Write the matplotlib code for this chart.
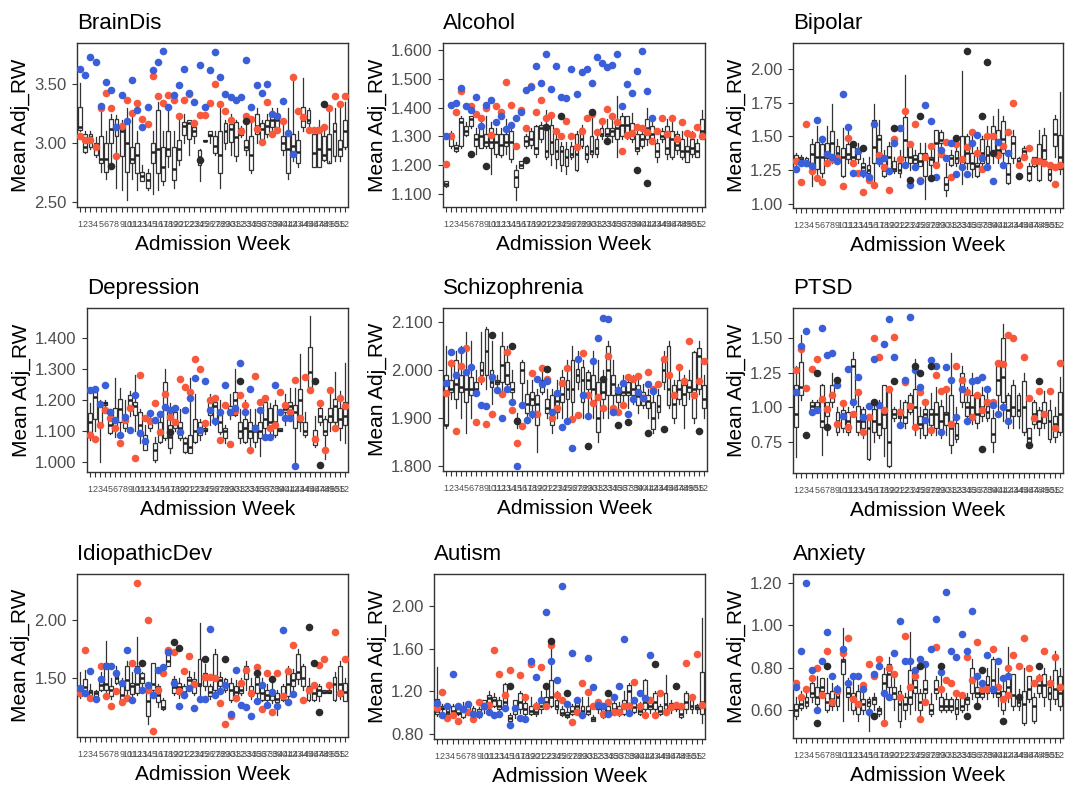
import matplotlib
matplotlib.use("Agg")
import matplotlib.pyplot as plt
from matplotlib.ticker import FormatStrFormatter

plt.rcParams["font.family"] = ["Liberation Sans", "DejaVu Sans"]

weeks = list(range(1, 53))
week_labels = [str(w) for w in weeks]

RED = "#F8593C"
BLUE = "#3A5FD8"
BLACK = "#2B2B2B"

# ---------------- BrainDis ----------------
braindis_med = [3.14,2.97,3.05,2.95,2.87,2.87,3.12,3.12,3.10,3.00, 2.87,2.90,2.72,2.69,2.93,2.95,2.80,2.95,2.78,2.95,
                3.15,3.17,3.10,2.88,3.02,3.07,2.98,2.90,3.10,3.12, 3.05,3.10,2.97,2.90,3.15,3.12,3.15,3.20,3.20,3.00,
                2.95,2.98,2.93,3.20,3.20,2.92,2.95,2.90,2.95,3.10, 2.95,3.10]
braindis_q1 = [3.11,2.93,2.97,2.90,2.83,2.76,3.00,3.06,2.89,2.76, 2.83,2.75,2.68,2.62,2.83,2.75,2.68,2.89,2.69,2.86,
               3.07,3.04,3.06,2.82,3.02,3.06,2.92,2.75,3.00,3.01, 2.89,3.07,2.94,2.77,3.08,3.03,3.08,3.14,3.11,2.94,
               2.75,2.89,2.83,3.14,3.17,2.80,2.80,2.86,2.83,2.89, 2.89,2.97]
braindis_q3 = [3.31,3.08,3.08,3.00,3.06,3.00,3.21,3.21,3.13,3.17, 2.97,3.00,2.76,2.75,3.00,3.28,2.97,3.10,2.97,3.03,
               3.18,3.20,3.14,2.94,3.03,3.10,3.06,3.10,3.17,3.16, 3.18,3.13,3.03,3.06,3.25,3.17,3.20,3.25,3.25,3.06,
               3.08,3.08,3.03,3.31,3.28,3.08,3.14,3.06,3.08,3.17, 3.03,3.20]
braindis_lo = [3.10,2.92,2.95,2.88,2.76,2.70,2.80,2.62,2.60,2.52, 2.70,2.60,2.68,2.60,2.57,2.60,2.65,2.80,2.62,2.82,
               3.00,2.90,3.00,2.68,3.02,3.00,2.90,2.62,2.95,2.90, 2.85,3.05,2.90,2.75,3.00,3.00,3.05,3.10,3.10,2.90,
               2.70,2.85,2.80,3.10,3.10,2.80,2.80,2.85,2.85,2.85, 2.85,2.95]
braindis_hi = [3.51,3.10,3.10,3.05,3.28,3.10,3.25,3.24,3.20,3.30, 3.25,3.10,2.82,2.78,3.10,3.35,3.10,3.30,3.10,3.20,
               3.25,3.20,3.20,2.95,3.03,3.10,3.10,3.30,3.20,3.25, 3.20,3.15,3.20,3.20,3.30,3.20,3.25,3.30,3.30,3.20,
               3.30,3.55,3.10,3.55,3.30,3.10,3.20,3.15,3.30,3.30, 3.30,3.35]
braindis_red = [(1,3.06),(2,3.03),(3,3.03),(4,2.97),(5,3.30),(6,3.43),(7,3.30),(8,2.89),(9,3.15),(10,3.37),(11,3.26),
                (12,3.34),(13,3.21),(14,3.16),(15,3.57),(16,3.40),(17,3.34),(18,3.41),(19,3.37),(20,3.23),(21,3.37),
                (22,3.42),(23,3.17),(24,3.24),(25,3.24),(26,3.34),(27,3.50),(28,3.33),(29,3.27),(30,3.20),(32,3.10),
                (33,3.23),(34,3.21),(35,3.12),(36,3.01),(37,3.35),(38,3.08),(39,3.11),(40,3.19),(42,3.56),(43,3.27),
                (44,3.22),(45,3.11),(46,3.11),(47,3.11),(48,3.14),(49,3.30),(50,3.40),(51,3.33),(52,3.40)]
braindis_blue = [3.63,3.58,3.73,3.69,3.32,3.52,3.45,3.14,3.41,3.19, 3.54,3.28,3.14,3.31,3.62,3.69,3.78,3.31,3.41,3.49,
                 3.63,3.43,3.35,3.66,3.31,3.62,3.77,3.56,3.42,3.39, 3.37,3.39,3.71,3.31,3.49,3.43,3.50,3.25,3.23,3.36,
                 3.09,2.91]
braindis_black = [(7,2.81),(24,2.86),(33,3.19),(48,3.33)]

# ---------------- Alcohol ----------------
alcohol_med = [1.135,1.30,1.26,1.35,1.32,1.36,1.29,1.30,1.28,1.28, 1.28,1.27,1.28,1.28,1.16,1.20,1.285,1.29,1.26,1.33,
               1.25,1.28,1.25,1.25,1.23,1.24,1.24,1.29,1.24,1.25, 1.26,1.31,1.31,1.32,1.33,1.34,1.34,1.31,1.26,1.29,
               1.33,1.31,1.25,1.30,1.26,1.29,1.27,1.25,1.25,1.26, 1.25,1.32]
alcohol_q1 = [1.127,1.265,1.248,1.265,1.305,1.335,1.265,1.26,1.265,1.26, 1.24,1.236,1.265,1.22,1.125,1.19,1.265,1.27,1.24,1.29,
              1.23,1.24,1.22,1.20,1.197,1.23,1.185,1.265,1.22,1.24, 1.24,1.30,1.30,1.30,1.29,1.30,1.31,1.29,1.25,1.265,
              1.29,1.29,1.23,1.29,1.24,1.23,1.254,1.23,1.21,1.24, 1.23,1.29]
alcohol_q3 = [1.144,1.311,1.27,1.363,1.335,1.37,1.31,1.335,1.31,1.33, 1.31,1.31,1.31,1.32,1.185,1.213,1.30,1.317,1.335,1.34,
              1.335,1.34,1.29,1.265,1.255,1.265,1.31,1.33,1.265,1.30, 1.29,1.33,1.33,1.33,1.345,1.37,1.37,1.345,1.31,1.31,
              1.36,1.335,1.277,1.32,1.335,1.317,1.31,1.29,1.265,1.29, 1.277,1.36]
alcohol_lo = [1.125,1.26,1.245,1.26,1.30,1.33,1.24,1.26,1.26,1.17, 1.23,1.23,1.24,1.21,1.08,1.19,1.26,1.26,1.23,1.28,
              1.22,1.20,1.19,1.18,1.17,1.22,1.18,1.26,1.21,1.23, 1.23,1.29,1.28,1.28,1.23,1.29,1.29,1.28,1.24,1.26,
              1.27,1.28,1.21,1.28,1.22,1.22,1.24,1.22,1.21,1.23, 1.23,1.29]
alcohol_hi = [1.145,1.32,1.28,1.37,1.35,1.37,1.33,1.35,1.37,1.35, 1.33,1.33,1.36,1.33,1.20,1.215,1.31,1.33,1.34,1.35,
              1.39,1.38,1.31,1.28,1.28,1.28,1.32,1.34,1.27,1.39, 1.32,1.35,1.36,1.36,1.44,1.38,1.37,1.38,1.32,1.33,
              1.40,1.37,1.29,1.33,1.36,1.35,1.32,1.32,1.31,1.32, 1.29,1.39]
alcohol_red = [(1,1.205),(2,1.30),(3,1.383),(4,1.459),(6,1.406),(7,1.377),(8,1.363),(9,1.40),(10,1.305),(11,1.406),
               (12,1.383),(13,1.49),(14,1.41),(15,1.267),(16,1.392),(17,1.33),(18,1.475),(19,1.383),(20,1.427),(21,1.363),
               (22,1.375),(23,1.317),(24,1.30),(25,1.354),(26,1.30),(27,1.263),(28,1.32),(29,1.363),(30,1.377),(31,1.314),
               (32,1.352),(33,1.394),(34,1.371),(35,1.349),(36,1.248),(37,1.305),(38,1.311),(39,1.332),(40,1.329),(41,1.314),
               (42,1.283),(43,1.319),(44,1.363),(45,1.308),(46,1.363),(47,1.29),(48,1.349),(49,1.311),(50,1.305),(51,1.334),
               (52,1.30)]
alcohol_blue = [1.30,1.41,1.415,1.467,1.406,1.392,1.438,1.337,1.41,1.427, 1.349,1.372,1.326,1.34,1.363,1.383,1.461,1.47,1.545,1.486,
                1.586,1.463,1.545,1.438,1.433,1.533,1.448,1.525,1.533,1.486, 1.577,1.556,1.539,1.548,1.586,1.406,1.481,1.452,1.527,1.597,
                1.459,1.363]
alcohol_black = [(6,1.24),(9,1.196),(17,1.217),(21,1.332),(24,1.371),(30,1.386),(33,1.283),(39,1.182),(41,1.14)]

# ---------------- Bipolar ----------------
bipolar_med = [1.33,1.33,1.32,1.37,1.35,1.35,1.37,1.45,1.38,1.35, 1.37,1.35,1.38,1.27,1.25,1.42,1.48,1.25,1.35,1.26,
               1.25,1.47,1.35,1.33,1.32,1.35,1.33,1.45,1.47,1.15, 1.34,1.34,1.35,1.38,1.30,1.28,1.38,1.36,1.50,1.40,
               1.48,1.22,1.45,1.32,1.39,1.23,1.32,1.30,1.40,1.22, 1.52,1.35]
bipolar_q1 = [1.30,1.30,1.28,1.30,1.255,1.23,1.34,1.33,1.32,1.205, 1.33,1.32,1.33,1.24,1.23,1.30,1.33,1.205,1.255,1.24,
              1.23,1.35,1.30,1.30,1.28,1.205,1.29,1.30,1.45,1.105, 1.29,1.30,1.27,1.30,1.255,1.205,1.30,1.30,1.38,1.35,
              1.38,1.155,1.34,1.30,1.35,1.18,1.28,1.18,1.33,1.18, 1.43,1.255]
bipolar_q3 = [1.365,1.35,1.34,1.44,1.46,1.44,1.45,1.54,1.43,1.415, 1.44,1.43,1.415,1.30,1.29,1.62,1.51,1.35,1.43,1.315,
              1.30,1.64,1.43,1.365,1.38,1.38,1.35,1.55,1.53,1.20, 1.365,1.39,1.50,1.50,1.38,1.30,1.48,1.43,1.575,1.55,
              1.61,1.30,1.50,1.34,1.415,1.28,1.35,1.44,1.51,1.255, 1.625,1.51]
bipolar_lo = [1.29,1.30,1.28,1.13,1.20,1.20,1.30,1.30,1.30,1.20, 1.30,1.30,1.30,1.20,1.20,1.15,1.28,1.20,1.22,1.23,
              1.20,1.30,1.25,1.28,1.28,1.04,1.20,1.28,1.35,1.06, 1.28,1.28,1.15,1.26,1.20,1.20,1.25,1.28,1.30,1.30,
              1.30,1.15,1.30,1.30,1.33,1.17,1.27,1.17,1.28,1.17, 1.35,1.22]
bipolar_hi = [1.38,1.36,1.35,1.48,1.58,1.50,1.58,1.74,1.48,1.56, 1.55,1.45,1.45,1.34,1.35,1.74,1.62,1.40,1.46,1.35,
              1.40,1.95,1.45,1.40,1.45,1.45,1.40,1.55,1.55,1.30, 1.40,1.45,1.98,1.52,1.50,1.42,1.50,1.58,1.65,1.70,
              1.65,1.35,1.55,1.35,1.43,1.30,1.35,1.55,1.56,1.28, 1.66,1.83]
bipolar_red = [(1,1.32),(2,1.16),(3,1.59),(4,1.24),(5,1.19),(6,1.16),(7,1.30),(8,1.33),(9,1.34),(10,1.13),(11,1.49),
               (12,1.30),(13,1.23),(14,1.09),(15,1.18),(16,1.14),(17,1.36),(18,1.27),(19,1.10),(20,1.48),(21,1.33),
               (22,1.69),(23,1.44),(24,1.59),(25,1.18),(26,1.35),(27,1.43),(28,1.29),(29,1.37),(30,1.46),(31,1.20),
               (32,1.44),(33,1.33),(34,1.42),(35,1.53),(36,1.38),(37,1.26),(38,1.50),(39,1.50),(40,1.36),(41,1.43),
               (42,1.53),(43,1.75),(44,1.29),(45,1.35),(46,1.41),(47,1.32),(48,1.32),(49,1.30),(50,1.29),(51,1.27),
               (51,1.15),(52,1.29)]
bipolar_blue = [1.26,1.30,1.30,1.28,1.62,1.48,1.37,1.35,1.32,1.81, 1.57,1.23,1.39,1.23,1.20,1.59,1.32,1.34,1.24,1.45,
                1.56,1.29,1.14,1.27,1.17,1.73,1.61,1.20,1.40,1.34, 1.45,1.22,1.27,1.22,1.45,1.51,1.34,1.27,1.17,1.46,
                1.29,1.38]
bipolar_black = [(12,1.44),(14,1.41),(20,1.56),(23,1.18),(25,1.65),(27,1.19),(32,1.49),(34,2.13),(37,1.65),(38,2.05),
                 (39,1.38),(44,1.21)]

# ---------------- Depression ----------------
depression_med = [1.13,1.21,1.19,1.19,1.12,1.14,1.17,1.13,1.20,1.18, 1.12,1.06,1.13,1.04,1.09,1.18,1.08,1.13,1.11,1.06,
                  1.05,1.10,1.10,1.105,1.17,1.18,1.13,1.10,1.16,1.20, 1.10,1.11,1.10,1.10,1.10,1.14,1.13,1.13,1.105,1.17,
                  1.18,1.16,1.20,1.10,1.29,1.08,1.15,1.10,1.15,1.18, 1.14,1.15]
depression_q1 = [1.098,1.14,1.125,1.185,1.093,1.11,1.13,1.11,1.173,1.152, 1.088,1.04,1.11,1.007,1.066,1.077,1.045,1.11,1.077,1.034,
                 1.03,1.066,1.088,1.10,1.152,1.13,1.098,1.077,1.152,1.152, 1.077,1.066,1.077,1.066,1.077,1.11,1.11,1.088,1.10,1.163,
                 1.152,1.11,1.13,1.088,1.232,1.056,1.13,1.088,1.13,1.13, 1.11,1.12]
depression_q3 = [1.157,1.227,1.195,1.195,1.152,1.173,1.205,1.152,1.216,1.195, 1.163,1.088,1.14,1.06,1.13,1.259,1.12,1.163,1.13,1.077,
                 1.088,1.14,1.13,1.11,1.20,1.195,1.152,1.11,1.18,1.227, 1.13,1.14,1.13,1.12,1.13,1.195,1.173,1.184,1.11,1.184,
                 1.195,1.184,1.237,1.13,1.371,1.104,1.173,1.14,1.173,1.205, 1.173,1.195]
depression_lo = [1.07,1.10,1.00,1.16,1.09,1.08,1.10,1.10,1.15,1.10, 1.06,1.04,1.10,1.00,1.06,1.07,1.03,1.10,1.07,1.03,
                 1.03,1.06,1.07,1.09,1.12,1.12,1.09,1.06,1.14,1.15, 1.06,1.06,1.03,1.05,1.02,1.08,1.09,1.08,1.10,1.12,
                 1.14,1.00,1.10,1.08,1.23,1.05,1.12,1.01,1.10,1.12, 1.07,1.06]
depression_hi = [1.19,1.23,1.20,1.20,1.17,1.27,1.24,1.20,1.23,1.28, 1.17,1.12,1.16,1.08,1.16,1.30,1.19,1.17,1.17,1.08,
                 1.27,1.22,1.14,1.12,1.22,1.20,1.20,1.12,1.22,1.30, 1.17,1.20,1.17,1.17,1.16,1.20,1.19,1.20,1.11,1.22,
                 1.24,1.24,1.35,1.16,1.47,1.15,1.19,1.15,1.23,1.29, 1.23,1.32]
depression_red = [(1,1.088),(2,1.075),(3,1.12),(4,1.168),(5,1.143),(6,1.111),(7,1.061),(8,1.136),(9,1.173),(10,1.013),
                  (11,1.28),(12,1.141),(13,1.133),(14,1.19),(15,1.096),(16,1.22),(17,1.146),(18,1.128),(19,1.267),(20,1.243),
                  (21,1.227),(22,1.334),(23,1.30),(24,1.125),(25,1.20),(26,1.207),(27,1.071),(28,1.184),(29,1.058),(30,1.165),
                  (31,1.216),(32,1.184),(33,1.04),(34,1.277),(35,1.195),(36,1.207),(37,1.111),(38,1.12),(39,1.225),(40,1.184),
                  (41,1.16),(42,1.264),(43,1.143),(44,1.275),(45,1.232),(46,1.075),(47,1.19),(48,1.04),(49,1.232),(50,1.111),
                  (51,1.207),(52,1.182)]
depression_blue = [1.232,1.237,1.186,1.25,1.163,1.136,1.086,1.147,1.104,1.216, 1.093,1.067,1.157,1.136,1.154,1.179,1.168,1.173,1.098,1.168,
                   1.206,1.27,1.104,1.26,1.168,1.133,1.163,1.248,1.163,1.173, 1.32,1.163,1.237,1.11,1.168,1.082,1.082,1.248,1.163,1.141,
                   1.141,0.986]
depression_black = [(17,1.098),(31,1.26),(46,1.26),(47,0.99)]

# ---------------- Schizophrenia ----------------
schizo_med = [1.885,1.96,1.97,1.965,1.96,1.96,1.96,2.00,2.04,1.975, 1.975,2.01,1.99,1.96,1.895,2.00,1.93,1.94,1.93,1.97,
              1.92,1.91,1.935,1.95,1.96,1.96,1.99,1.98,1.98,1.96, 1.90,1.955,2.00,1.97,1.95,1.955,1.955,1.96,1.945,1.94,
              1.935,1.90,1.925,2.00,1.96,1.93,1.96,1.95,1.965,1.96, 2.03,1.94]
schizo_q1 = [1.885,1.954,1.94,1.954,1.934,1.948,1.954,1.99,1.99,1.965, 1.97,1.975,1.97,1.954,1.89,1.972,1.91,1.927,1.885,1.954,
             1.91,1.885,1.913,1.934,1.94,1.934,1.975,1.934,1.96,1.927, 1.871,1.94,1.948,1.948,1.934,1.948,1.948,1.948,1.927,1.927,
             1.92,1.878,1.913,1.975,1.927,1.90,1.94,1.927,1.954,1.90, 1.96,1.92]
schizo_q3 = [1.99,1.98,2.02,1.99,1.996,1.986,1.975,2.017,2.086,2.00, 1.98,2.05,2.017,1.975,1.90,2.017,1.95,1.955,1.948,1.98,
             1.94,1.948,1.948,1.986,1.98,2.02,2.003,2.006,1.996,1.99, 1.975,1.986,2.05,1.99,1.96,1.968,1.975,1.98,1.968,1.955,
             1.948,1.934,1.948,2.02,2.05,1.968,1.98,1.968,1.98,2.038, 2.045,1.968]
schizo_lo = [1.88,1.94,1.92,1.90,1.87,1.90,1.95,1.97,1.96,1.93, 1.96,1.95,1.96,1.93,1.88,1.93,1.89,1.90,1.83,1.95,
             1.90,1.87,1.90,1.90,1.90,1.90,1.96,1.90,1.90,1.90, 1.85,1.90,1.90,1.93,1.91,1.93,1.92,1.93,1.91,1.92,
             1.90,1.87,1.90,1.96,1.92,1.89,1.93,1.88,1.94,1.89, 1.95,1.90]
schizo_hi = [2.05,2.02,2.04,2.05,2.08,2.06,2.00,2.08,2.09,2.06, 1.99,2.08,2.05,2.00,1.91,2.02,1.98,1.98,1.96,2.00,
             1.96,1.96,1.98,2.00,2.02,2.05,2.04,2.02,2.00,2.04, 2.02,2.00,2.06,2.02,1.97,1.99,1.99,1.99,1.98,1.97,
             1.96,1.95,1.96,2.04,2.06,1.98,2.00,1.99,2.00,2.04, 2.06,1.99]
schizo_red = [(1,1.953),(2,2.015),(3,1.873),(4,2.009),(5,2.046),(7,1.892),(8,1.981),(9,1.887),(10,1.909),(12,1.951),
              (13,2.038),(14,1.916),(15,1.848),(16,1.884),(18,1.993),(19,1.909),(20,2.004),(21,1.981),(22,1.90),(23,1.92),
              (24,1.972),(25,2.004),(26,1.898),(27,1.907),(28,2.036),(29,1.948),(30,1.932),(31,1.944),(32,1.921),(33,2.029),
              (34,1.92),(35,1.912),(36,1.927),(37,1.986),(38,1.982),(39,1.988),(40,1.942),(41,1.995),(42,1.96),(43,1.97),
              (44,2.022),(45,1.989),(46,1.949),(47,2.006),(48,1.977),(49,2.06),(50,1.949),(51,1.977),(52,2.018)]
schizo_blue = [1.973,2.038,1.99,2.041,1.995,2.006,1.953,1.928,1.925,1.986, 1.958,1.90,1.96,1.934,1.80,1.928,1.896,1.908,1.982,1.97,
               1.977,1.913,1.953,1.882,1.894,1.838,2.022,1.949,1.905,2.019, 2.067,2.108,2.106,1.913,1.958,1.974,1.909,1.94,1.954,1.942,
               1.97,1.956]
schizo_black = [(10,2.072),(14,2.05),(15,1.894),(21,2.002),(29,1.842),(32,1.982),(35,1.885),(37,1.891),(41,1.868),
                (44,1.877),(51,1.873)]

# ---------------- PTSD ----------------
ptsd_med = [0.95,1.15,0.80,1.01,1.00,0.90,1.00,1.08,0.90,0.95, 0.90,1.30,0.90,0.90,0.85,0.90,0.88,0.95,0.75,0.95,
            0.94,0.93,1.00,1.00,0.88,0.95,0.95,0.95,0.90,0.95, 0.85,0.80,1.15,1.00,1.00,0.95,1.00,0.97,0.81,1.20,
            1.22,0.98,1.00,0.98,1.00,0.78,0.95,0.90,0.95,0.90, 0.88,0.95]
ptsd_q1 = [0.86,1.09,0.80,0.98,0.99,0.86,0.94,1.04,0.82,0.85, 0.82,1.04,0.82,0.85,0.63,0.82,0.80,0.85,0.58,0.92,
           0.92,0.89,0.97,0.85,0.85,0.80,0.87,0.85,0.82,0.87, 0.73,0.77,1.04,0.94,0.92,0.89,0.94,0.92,0.75,1.09,
           1.04,0.89,0.94,0.94,0.82,0.75,0.88,0.85,0.89,0.77, 0.79,0.82]
ptsd_q3 = [1.16,1.33,0.80,1.04,1.04,1.16,1.04,1.16,0.97,0.98, 0.97,1.35,1.01,0.99,0.94,0.99,1.01,1.16,1.11,0.99,
           0.99,1.04,1.09,1.13,0.94,0.99,0.99,1.04,1.01,0.97, 1.09,0.89,1.25,1.04,1.09,1.09,1.09,1.01,0.92,1.30,
           1.50,1.09,1.16,1.09,1.19,0.85,1.04,0.98,1.04,0.98, 0.94,1.11]
ptsd_lo = [0.64,1.05,0.80,0.95,0.97,0.66,0.80,1.00,0.80,0.82, 0.80,1.00,0.80,0.78,0.62,0.75,0.78,0.65,0.57,0.90,
           0.88,0.85,0.95,0.80,0.78,0.78,0.80,0.80,0.78,0.80, 0.67,0.75,1.00,0.88,0.88,0.85,0.90,0.90,0.68,0.95,
           0.90,0.85,0.85,0.85,0.80,0.73,0.85,0.80,0.85,0.75, 0.75,0.80]
ptsd_hi = [1.30,1.52,0.80,1.05,1.05,1.17,1.04,1.25,1.00,1.00, 1.00,1.40,1.10,1.00,0.95,1.05,1.05,1.16,1.15,1.00,
           1.05,1.05,1.10,1.35,1.00,1.05,1.10,1.15,1.05,1.15, 1.39,1.00,1.30,1.15,1.25,1.10,1.15,1.10,0.98,1.30,
           1.60,1.10,1.20,1.10,1.25,0.85,1.05,1.00,1.12,1.05, 1.00,1.22]
ptsd_red = [(1,1.27),(2,1.42),(3,1.14),(4,1.28),(5,1.35),(6,1.06),(7,0.99),(8,1.09),(9,0.88),(10,1.03),(11,0.86),
            (12,0.95),(13,1.11),(14,0.82),(15,0.93),(16,1.50),(17,1.36),(18,0.98),(19,1.13),(20,1.51),(21,0.97),
            (22,1.18),(23,1.01),(24,0.86),(25,1.11),(26,1.04),(27,0.84),(28,1.23),(29,1.12),(30,1.13),(31,0.88),
            (32,1.30),(33,1.20),(34,1.11),(35,0.93),(36,1.09),(37,0.98),(38,1.04),(39,1.04),(40,1.32),(41,1.31),
            (42,1.52),(43,1.50),(45,1.36),(46,1.07),(47,0.92),(48,1.12),(49,0.95),(50,1.12),(51,0.85),(52,1.32)]
ptsd_blue = [1.11,1.44,1.55,0.97,0.98,1.57,1.38,1.39,1.16,0.94, 1.28,1.04,1.22,0.93,1.01,1.35,1.02,1.46,1.64,1.36,
             0.87,1.20,1.65,1.27,1.15,0.91,1.34,1.30,0.82,1.29, 1.20,0.93,1.13,0.90,1.19,1.20,1.22,1.13,1.02,0.95,
             1.00,0.90]
ptsd_black = [(3,0.80),(5,1.25),(7,0.86),(9,1.20),(16,1.04),(20,1.19),(24,1.30),(25,1.25),(27,1.30),(37,0.70),
              (46,0.73),(48,1.19)]

# ---------------- IdiopathicDev ----------------
idio_med = [1.40,1.42,1.38,1.37,1.44,1.45,1.40,1.50,1.35,1.48, 1.43,1.45,1.50,1.30,1.45,1.35,1.25,1.65,1.42,1.42,
            1.38,1.48,1.45,1.45,1.50,1.38,1.50,1.48,1.45,1.40, 1.38,1.40,1.55,1.38,1.45,1.37,1.35,1.35,1.32,1.36,
            1.45,1.48,1.55,1.50,1.38,1.37,1.40,1.38,1.38,1.45, 1.45,1.38]
idio_q1 = [1.34,1.37,1.34,1.33,1.40,1.40,1.34,1.46,1.30,1.40, 1.36,1.37,1.46,1.17,1.40,1.29,1.23,1.60,1.37,1.36,
           1.34,1.43,1.37,1.43,1.43,1.34,1.40,1.43,1.40,1.31, 1.34,1.37,1.49,1.34,1.37,1.31,1.31,1.31,1.29,1.31,
           1.34,1.43,1.49,1.43,1.31,1.31,1.34,1.37,1.37,1.31, 1.34,1.30]
idio_q3 = [1.43,1.49,1.40,1.39,1.49,1.63,1.43,1.54,1.44,1.60, 1.46,1.60,1.54,1.40,1.63,1.43,1.31,1.71,1.49,1.46,
           1.43,1.51,1.49,1.66,1.54,1.43,1.71,1.51,1.49,1.46, 1.43,1.46,1.60,1.43,1.51,1.43,1.40,1.40,1.37,1.43,
           1.54,1.54,1.71,1.60,1.43,1.43,1.43,1.40,1.40,1.51, 1.60,1.46]
idio_lo = [1.33,1.36,1.33,1.30,1.39,1.35,1.32,1.45,1.28,1.36, 1.34,1.35,1.40,1.10,1.35,1.25,1.22,1.60,1.35,1.33,
           1.33,1.40,1.35,1.33,1.40,1.32,1.35,1.40,1.38,1.29, 1.30,1.35,1.40,1.32,1.33,1.30,1.28,1.28,1.18,1.30,
           1.30,1.40,1.45,1.40,1.30,1.30,1.30,1.37,1.37,1.30, 1.32,1.30]
idio_hi = [1.55,1.57,1.45,1.40,1.55,1.82,1.50,1.60,1.50,1.65, 1.55,1.85,1.55,1.45,1.63,1.45,1.33,1.75,1.52,1.50,
           1.45,1.56,1.55,1.97,1.62,1.45,1.75,1.55,1.50,1.50, 1.48,1.50,1.65,1.50,1.60,1.50,1.45,1.50,1.40,1.45,
           1.60,1.58,1.75,1.62,1.50,1.45,1.45,1.40,1.42,1.55, 1.65,1.50]
idio_red = [(1,1.37),(2,1.74),(3,1.33),(5,1.60),(6,1.34),(7,1.26),(8,1.39),(9,1.29),(10,1.33),(11,1.63),(12,2.32),
            (14,2.00),(14,1.40),(15,1.04),(16,1.40),(17,1.54),(18,1.74),(19,1.72),(20,1.39),(21,1.56),(22,1.69),
            (23,1.45),(25,1.51),(26,1.51),(27,1.50),(28,1.28),(29,1.10),(30,1.17),(31,1.33),(32,1.46),(33,1.57),
            (34,1.37),(35,1.59),(36,1.23),(37,1.54),(38,1.21),(39,1.54),(40,1.34),(41,1.56),(42,1.78),(44,1.31),
            (45,1.40),(46,1.44),(47,1.61),(48,1.66),(49,1.44),(50,1.90),(51,1.37),(52,1.66)]
idio_blue = [1.41,1.37,1.56,1.32,1.49,1.60,1.60,1.54,1.46,1.74, 1.31,1.57,1.40,1.44,1.35,1.57,1.59,1.72,1.46,1.26,
             1.35,1.41,1.24,1.32,1.32,1.92,1.35,1.39,1.44,1.19, 1.57,1.27,1.25,1.17,1.30,1.44,1.27,1.38,1.26,1.91,
             1.29,1.36]
idio_black = [(13,1.63),(19,1.81),(20,1.76),(25,1.66),(29,1.66),(35,1.54),(38,1.49),(45,1.94),(46,1.63),(47,1.21)]

# ---------------- Autism ----------------
autism_med = [1.02,1.04,1.01,1.02,1.00,1.02,1.01,1.00,0.99,1.08, 1.14,1.12,1.06,1.10,0.95,1.05,1.10,1.03,1.02,1.01,
              1.06,1.10,1.15,1.06,1.00,0.98,1.02,1.06,1.02,1.02, 0.94,1.06,0.98,1.02,1.03,1.02,1.05,1.20,1.05,1.02,
              1.10,1.06,1.10,1.02,1.08,1.06,1.06,0.99,1.10,1.06, 1.05,1.10]
autism_q1 = [0.99,1.03,0.99,0.99,0.99,0.96,0.99,0.98,0.96,1.03, 1.06,1.06,1.03,1.06,0.92,0.99,1.03,0.99,0.99,0.99,
             1.03,1.06,1.06,1.03,0.98,0.96,0.99,1.03,0.99,0.99, 0.92,1.03,0.96,0.99,0.99,0.99,0.99,1.09,1.01,0.99,
             1.03,1.03,1.03,0.99,1.03,1.03,1.03,0.96,1.03,1.03, 1.03,0.99]
autism_q3 = [1.13,1.06,1.04,1.06,1.03,1.06,1.06,1.04,1.03,1.12, 1.17,1.15,1.12,1.27,0.98,1.12,1.18,1.09,1.06,1.06,
             1.12,1.15,1.31,1.12,1.03,1.01,1.06,1.12,1.06,1.06, 0.96,1.09,1.03,1.06,1.09,1.06,1.12,1.26,1.09,1.06,
             1.31,1.12,1.18,1.06,1.18,1.09,1.09,1.03,1.18,1.12, 1.07,1.38]
autism_lo = [0.97,1.00,0.98,0.97,0.98,0.95,0.98,0.97,0.95,1.00, 1.03,1.05,1.00,1.03,0.86,0.95,1.00,0.98,0.98,0.97,
             1.00,1.05,1.05,1.00,0.97,0.95,0.98,1.00,0.95,0.98, 0.92,1.00,0.95,0.98,0.98,0.97,0.98,1.05,1.00,0.98,
             1.00,1.00,1.00,0.98,1.00,1.00,1.02,0.95,1.00,1.00, 1.00,0.90]
autism_hi = [1.43,1.08,1.06,1.08,1.05,1.10,1.07,1.06,1.05,1.12, 1.20,1.18,1.15,1.28,1.00,1.12,1.20,1.12,1.15,1.10,
             1.20,1.25,1.60,1.20,1.06,1.05,1.08,1.15,1.15,1.15, 0.98,1.10,1.05,1.10,1.15,1.10,1.20,1.28,1.12,1.10,
             1.32,1.15,1.20,1.08,1.35,1.12,1.10,1.05,1.20,1.15, 1.08,1.89]
autism_red = [(1,1.04),(2,1.19),(3,0.95),(4,0.98),(5,0.92),(6,1.03),(7,1.01),(8,0.94),(9,1.10),(10,1.06),(11,1.07),
              (12,1.59),(13,1.36),(14,1.17),(15,1.40),(17,1.35),(18,1.15),(19,1.46),(20,1.06),(21,1.43),(22,1.06),
              (23,1.63),(24,1.17),(25,1.12),(27,0.91),(28,1.01),(29,1.28),(30,1.19),(31,1.06),(32,1.10),(33,0.99),
              (34,1.10),(35,1.01),(36,1.01),(37,1.06),(38,1.06),(39,1.29),(40,1.06),(41,0.98),(42,1.12),(43,0.98),
              (44,1.18),(45,1.01),(46,1.05),(47,1.07),(48,1.06),(49,1.47),(50,1.15),(51,1.55),(52,1.07)]
autism_blue = [1.09,0.98,1.06,1.36,1.06,1.03,1.08,0.99,0.99,1.06, 1.01,0.98,0.99,1.04,0.88,1.04,0.95,0.94,1.48,1.33,
               1.12,1.94,1.48,1.31,2.19,1.08,1.56,1.12,0.98,1.51, 1.24,1.07,1.06,0.99,1.15,1.25,1.69,1.00,1.12,1.18,
               1.14,1.54]
autism_black = [(15,1.25),(22,1.25),(23,1.67),(26,1.18),(34,1.18),(43,1.46),(47,1.25)]

# ---------------- Anxiety ----------------
anxiety_med = [0.60,0.63,0.64,0.68,0.66,0.71,0.64,0.65,0.66,0.83, 0.68,0.65,0.62,0.63,0.64,0.65,0.60,0.73,0.77,0.68,
               0.63,0.63,0.66,0.71,0.64,0.70,0.60,0.70,0.62,0.62, 0.62,0.61,0.62,0.65,0.74,0.68,0.68,0.72,0.74,0.68,
               0.65,0.71,0.67,0.64,0.63,0.70,0.62,0.72,0.72,0.68, 0.70,0.68]
anxiety_q1 = [0.57,0.61,0.62,0.66,0.63,0.69,0.60,0.62,0.62,0.77, 0.66,0.60,0.58,0.60,0.62,0.63,0.58,0.68,0.71,0.65,
              0.55,0.60,0.63,0.68,0.60,0.68,0.58,0.68,0.60,0.60, 0.60,0.58,0.60,0.63,0.68,0.66,0.66,0.68,0.68,0.66,
              0.60,0.68,0.62,0.62,0.54,0.65,0.55,0.68,0.66,0.65, 0.65,0.62]
anxiety_q3 = [0.63,0.65,0.66,0.73,0.71,0.75,0.68,0.69,0.69,0.84, 0.71,0.68,0.69,0.65,0.65,0.66,0.61,0.77,0.82,0.71,
              0.69,0.66,0.79,0.74,0.68,0.74,0.63,0.74,0.66,0.65, 0.65,0.65,0.66,0.66,0.80,0.71,0.69,0.76,0.84,0.71,
              0.69,0.77,0.77,0.66,0.69,0.76,0.66,0.74,0.77,0.71, 0.79,0.76]
anxiety_lo = [0.56,0.60,0.61,0.64,0.60,0.68,0.59,0.60,0.60,0.55, 0.60,0.58,0.55,0.58,0.50,0.60,0.57,0.55,0.68,0.60,
              0.52,0.56,0.58,0.60,0.55,0.64,0.57,0.65,0.59,0.59, 0.59,0.56,0.59,0.60,0.65,0.64,0.65,0.65,0.66,0.62,
              0.58,0.64,0.60,0.60,0.53,0.64,0.54,0.66,0.62,0.60, 0.63,0.60]
anxiety_hi = [0.66,0.69,0.70,0.74,0.76,0.75,0.75,0.73,0.72,0.99, 0.75,0.74,0.72,0.72,0.66,0.68,0.62,0.80,0.85,0.76,
              0.72,0.68,0.97,0.75,0.70,0.80,0.68,0.76,0.80,0.68, 0.66,0.68,0.68,0.68,0.84,0.74,0.72,0.80,0.85,0.80,
              0.76,0.90,0.77,0.70,0.80,0.76,0.68,0.77,0.80,0.76, 0.88,0.80]
anxiety_red = [(1,0.73),(2,0.66),(3,0.70),(4,0.75),(5,0.80),(6,0.67),(7,0.88),(8,0.64),(9,0.69),(10,0.87),(11,0.94),
               (12,0.65),(13,0.63),(14,0.72),(15,0.82),(16,0.76),(17,0.84),(18,0.54),(19,0.80),(20,0.77),(21,0.66),
               (22,0.95),(23,0.71),(24,0.76),(25,0.56),(26,0.64),(28,0.90),(29,0.70),(30,0.74),(31,0.73),(32,0.68),
               (33,0.67),(34,0.85),(35,0.74),(36,0.92),(37,0.70),(38,0.70),(39,0.89),(40,0.71),(41,0.65),(42,0.67),
               (42,0.80),(43,0.86),(44,0.81),(45,0.94),(46,0.80),(47,0.73),(48,0.75),(49,0.88),(50,0.73),(51,0.85),
               (52,0.71)]
anxiety_blue = [0.71,0.88,1.20,0.79,0.60,0.83,0.97,0.76,0.70,0.89, 0.73,0.76,0.76,0.70,0.59,0.77,0.81,0.68,0.66,0.87,
                1.02,0.83,0.83,0.79,0.84,0.82,0.89,1.03,0.78,1.16, 0.88,0.85,0.96,0.88,1.07,0.76,0.73,0.86,0.70,0.83,
                0.75,0.76]
anxiety_black = [(5,0.54),(7,0.81),(16,0.57),(25,0.81),(29,0.81),(34,0.57),(36,0.62),(37,0.79),(41,0.55),(44,0.66),
                 (48,0.81)]

titles = ["BrainDis", "Alcohol", "Bipolar", "Depression", "Schizophrenia", "PTSD",
          "IdiopathicDev", "Autism", "Anxiety"]
box_data = [
    (braindis_med, braindis_q1, braindis_q3, braindis_lo, braindis_hi),
    (alcohol_med, alcohol_q1, alcohol_q3, alcohol_lo, alcohol_hi),
    (bipolar_med, bipolar_q1, bipolar_q3, bipolar_lo, bipolar_hi),
    (depression_med, depression_q1, depression_q3, depression_lo, depression_hi),
    (schizo_med, schizo_q1, schizo_q3, schizo_lo, schizo_hi),
    (ptsd_med, ptsd_q1, ptsd_q3, ptsd_lo, ptsd_hi),
    (idio_med, idio_q1, idio_q3, idio_lo, idio_hi),
    (autism_med, autism_q1, autism_q3, autism_lo, autism_hi),
    (anxiety_med, anxiety_q1, anxiety_q3, anxiety_lo, anxiety_hi),
]
red_pts = [braindis_red, alcohol_red, bipolar_red, depression_red, schizo_red, ptsd_red, idio_red, autism_red, anxiety_red]
blue_pts = [braindis_blue, alcohol_blue, bipolar_blue, depression_blue, schizo_blue, ptsd_blue, idio_blue, autism_blue, anxiety_blue]
black_pts = [braindis_black, alcohol_black, bipolar_black, depression_black, schizo_black, ptsd_black, idio_black,
             autism_black, anxiety_black]

ylims = [(2.46, 3.85), (1.055, 1.624), (0.97, 2.19), (0.968, 1.497), (1.79, 2.129),
         (0.527, 1.716), (0.99, 2.397), (0.753, 2.30), (0.468, 1.243)]
yticks = [[2.5, 3.0, 3.5], [1.1, 1.2, 1.3, 1.4, 1.5, 1.6], [1.0, 1.25, 1.5, 1.75, 2.0],
          [1.0, 1.1, 1.2, 1.3, 1.4], [1.8, 1.9, 2.0, 2.1], [0.75, 1.0, 1.25, 1.5],
          [1.5, 2.0], [0.8, 1.2, 1.6, 2.0], [0.6, 0.8, 1.0, 1.2]]
yfmts = ["%.2f", "%.3f", "%.2f", "%.3f", "%.3f", "%.2f", "%.2f", "%.2f", "%.2f"]

# panel boxes in pixels: left, right, top, bottom
W, H = 1067, 785
panel_px = [(77, 348, 43, 207), (443, 705, 43, 207), (793, 1063, 43, 208),
            (87, 348, 308, 472), (443, 707, 308, 471), (793, 1063, 308, 473),
            (77, 348, 574, 737), (434, 705, 574, 739), (793, 1063, 574, 738)]

fig = plt.figure(figsize=(W / 100, H / 100), dpi=100)

for i, title in enumerate(titles):
    x0, x1, y0, y1 = panel_px[i]
    ax = fig.add_axes([x0 / W, 1 - y1 / H, (x1 - x0) / W, (y1 - y0) / H])
    med, q1, q3, lo, hi = box_data[i]
    stats = [{"med": m, "q1": a, "q3": b, "whislo": l, "whishi": h, "fliers": []}
             for m, a, b, l, h in zip(med, q1, q3, lo, hi)]
    ax.bxp(stats, positions=weeks, widths=0.75, showfliers=False, showcaps=False,
           patch_artist=True,
           boxprops=dict(facecolor="white", edgecolor="#333333", linewidth=0.9),
           whiskerprops=dict(color="#333333", linewidth=0.9),
           medianprops=dict(color="#222222", linewidth=1.8))

    ax.scatter([p[0] for p in red_pts[i]], [p[1] for p in red_pts[i]], s=30, color=RED, zorder=3, linewidths=0)
    blue = blue_pts[i]
    ax.scatter(weeks[:len(blue)], blue, s=30, color=BLUE, zorder=3, linewidths=0)
    ax.scatter([p[0] for p in black_pts[i]], [p[1] for p in black_pts[i]], s=30, color=BLACK, zorder=3,
               linewidths=0)

    ax.set_xlim(0.4, 52.6)
    ax.set_ylim(*ylims[i])
    ax.set_xticks(weeks)
    ax.set_xticklabels(week_labels)
    ax.set_yticks(yticks[i])
    ax.yaxis.set_major_formatter(FormatStrFormatter(yfmts[i]))
    ax.tick_params(axis="x", labelsize=6.5, length=3.5, width=0.8, pad=6, color="#333333", labelcolor="#4D4D4D")
    ax.tick_params(axis="y", labelsize=12, length=3.5, width=0.8, pad=4, color="#333333", labelcolor="#4D4D4D")
    for sp in ax.spines.values():
        sp.set_linewidth(1.0)
        sp.set_color("#333333")
    ax.set_title(title, loc="left", fontsize=16, pad=10)
    ax.set_xlabel("Admission Week", fontsize=15, labelpad=4)
    ax.set_ylabel("Mean Adj_RW", fontsize=15, labelpad=3)

fig.savefig("out.png", dpi=100)
